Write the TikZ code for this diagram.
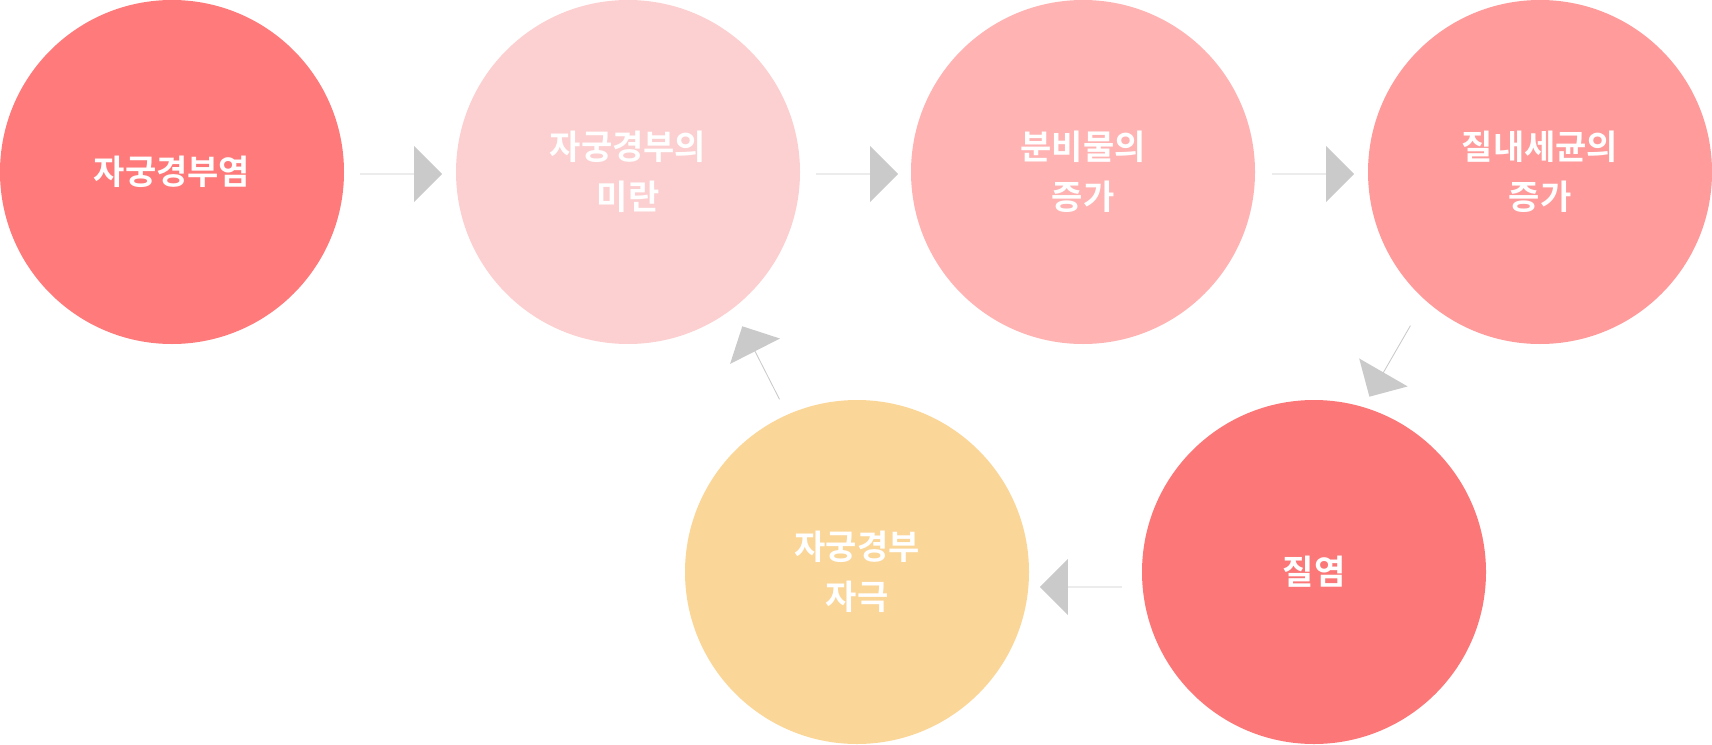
\documentclass[tikz,border=0pt]{standalone}
\usepackage{fontspec}
\setmainfont{Noto Sans CJK KR}[BoldFont={Noto Sans CJK KR Bold}]
\usetikzlibrary{shapes.arrows}
\definecolor{cA}{HTML}{FF7B7B}
\definecolor{cB}{HTML}{FCD0D0}
\definecolor{cC}{HTML}{FFB3B3}
\definecolor{cD}{HTML}{FF9B9B}
\definecolor{cE}{HTML}{FC7878}
\definecolor{cF}{HTML}{FBD699}
\definecolor{ar}{HTML}{C9CAC9}
\begin{document}
\begin{tikzpicture}[x=1pt,y=-1pt,
  circ/.style={circle,minimum size=344pt,inner sep=0pt,text=white,align=center,
    font=\fontsize{34}{50}\selectfont\bfseries},
  arr/.style={single arrow,fill=ar,draw=none,minimum height=82pt,minimum width=56pt,
    single arrow head extend=13pt,inner sep=0pt,anchor=center}]
\useasboundingbox (0,0) rectangle (1712,744);
\node[circ,fill=cA] (n1) at (172,172) {자궁경부염};
\node[circ,fill=cB] (n2) at (628,172) {자궁경부의\\미란};
\node[circ,fill=cC] (n3) at (1083,172) {분비물의\\증가};
\node[circ,fill=cD] (n4) at (1540,172) {질내세균의\\증가};
\node[circ,fill=cE] (n5) at (1314,572) {질염};
\node[circ,fill=cF] (n6) at (857,572) {자궁경부\\자극};
\node[arr] (a1) at (401,174) {};
\node[arr] (a2) at (857,174) {};
\node[arr] (a3) at (1313,174) {};
\node[arr,shape border rotate=180] (a4) at (1081,587) {};
\node[arr,rotate=-120] (a5) at (1390,361) {};
\node[arr,rotate=117] (a6) at (761,363) {};
\end{tikzpicture}
\end{document}
